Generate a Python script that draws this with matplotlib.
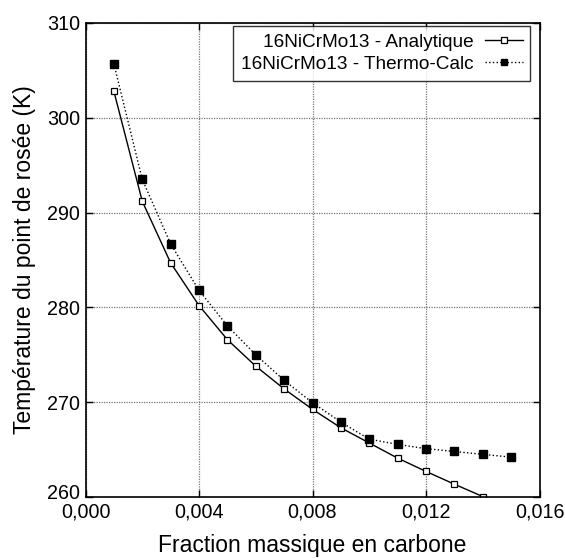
import numpy as np
import matplotlib
matplotlib.use("Agg")
import matplotlib.pyplot as plt
import matplotlib.transforms as mtransforms
from matplotlib.ticker import FuncFormatter, MultipleLocator

plt.rcParams['font.family'] = ['Liberation Sans', 'DejaVu Sans']

x = [0.001, 0.002, 0.003, 0.004, 0.005, 0.006, 0.007,
     0.008, 0.009, 0.010, 0.011, 0.012, 0.013, 0.014, 0.015]
t_analytique = [302.8, 291.2, 284.7, 280.2, 276.6, 273.8, 271.4,
                269.25, 267.3, 265.7, 264.1, 262.7, 261.35, 260.05]
t_thermocalc = [305.7, 293.5, 286.7, 281.8, 278.05, 275.0, 272.3,
                269.95, 267.9, 266.1, 265.55, 265.1, 264.8, 264.5, 264.2]

label_a = "16NiCrMo13 - Analytique"
label_t = "16NiCrMo13 - Thermo-Calc"

fig = plt.figure(figsize=(5.65, 5.58), dpi=100)
# axes box: x 85.5..539.5 px, y 23..497 px
ax = fig.add_axes([85.5 / 565, 61 / 558, 454 / 565, 474 / 558])

ax.plot(x[:len(t_analytique)], t_analytique, '-', color='black', lw=1.0,
        marker='s', markersize=4.6, markerfacecolor='white',
        markeredgecolor='black', markeredgewidth=0.9, label=label_a)
ax.plot(x, t_thermocalc, ':', color='black', lw=1.0,
        marker='s', markersize=5.3, markerfacecolor='black',
        markeredgecolor='black', label=label_t)

ax.set_xlim(0, 0.016)
ax.set_ylim(260, 310)
ax.xaxis.set_major_locator(MultipleLocator(0.004))
ax.yaxis.set_major_locator(MultipleLocator(10))
ax.xaxis.set_major_formatter(FuncFormatter(lambda v, p: "{:.3f}".format(v).replace('.', ',')))
# bottom y label "260" is drawn by hand a touch higher, as in the original
ax.yaxis.set_major_formatter(FuncFormatter(lambda v, p: "" if v <= 260 else "{:.0f}".format(v)))

ax.grid(True, color='#777777', linestyle=(0, (1, 1)), linewidth=0.9)
ax.tick_params(direction='in', top=True, right=True, length=5, width=1,
               labelsize=14.2)
ax.tick_params(axis='x', pad=4)
ax.tick_params(axis='y', pad=4)
for s in ax.spines.values():
    s.set_linewidth(1.2)

off = mtransforms.ScaledTranslation(-4 / 72, 2.5 / 72, fig.dpi_scale_trans)
ax.text(0, 260, "260", transform=ax.get_yaxis_transform() + off,
        ha='right', va='center', fontsize=14.2)

ax.set_xlabel("Fraction massique en carbone", fontsize=16.5, labelpad=9)
ax.set_ylabel("Température du point de rosée (K)", fontsize=16.5, labelpad=8)

leg = ax.legend(loc='upper right', bbox_to_anchor=(0.980, 0.9937),
                markerfirst=False, fontsize=13.7, markerscale=0.8,
                frameon=True, fancybox=False, edgecolor='black',
                handlelength=2.0, borderaxespad=0.0, borderpad=0.4,
                labelspacing=0.25, handletextpad=0.6)
leg.get_frame().set_linewidth(1.0)

fig.savefig("out.png", dpi=100)
